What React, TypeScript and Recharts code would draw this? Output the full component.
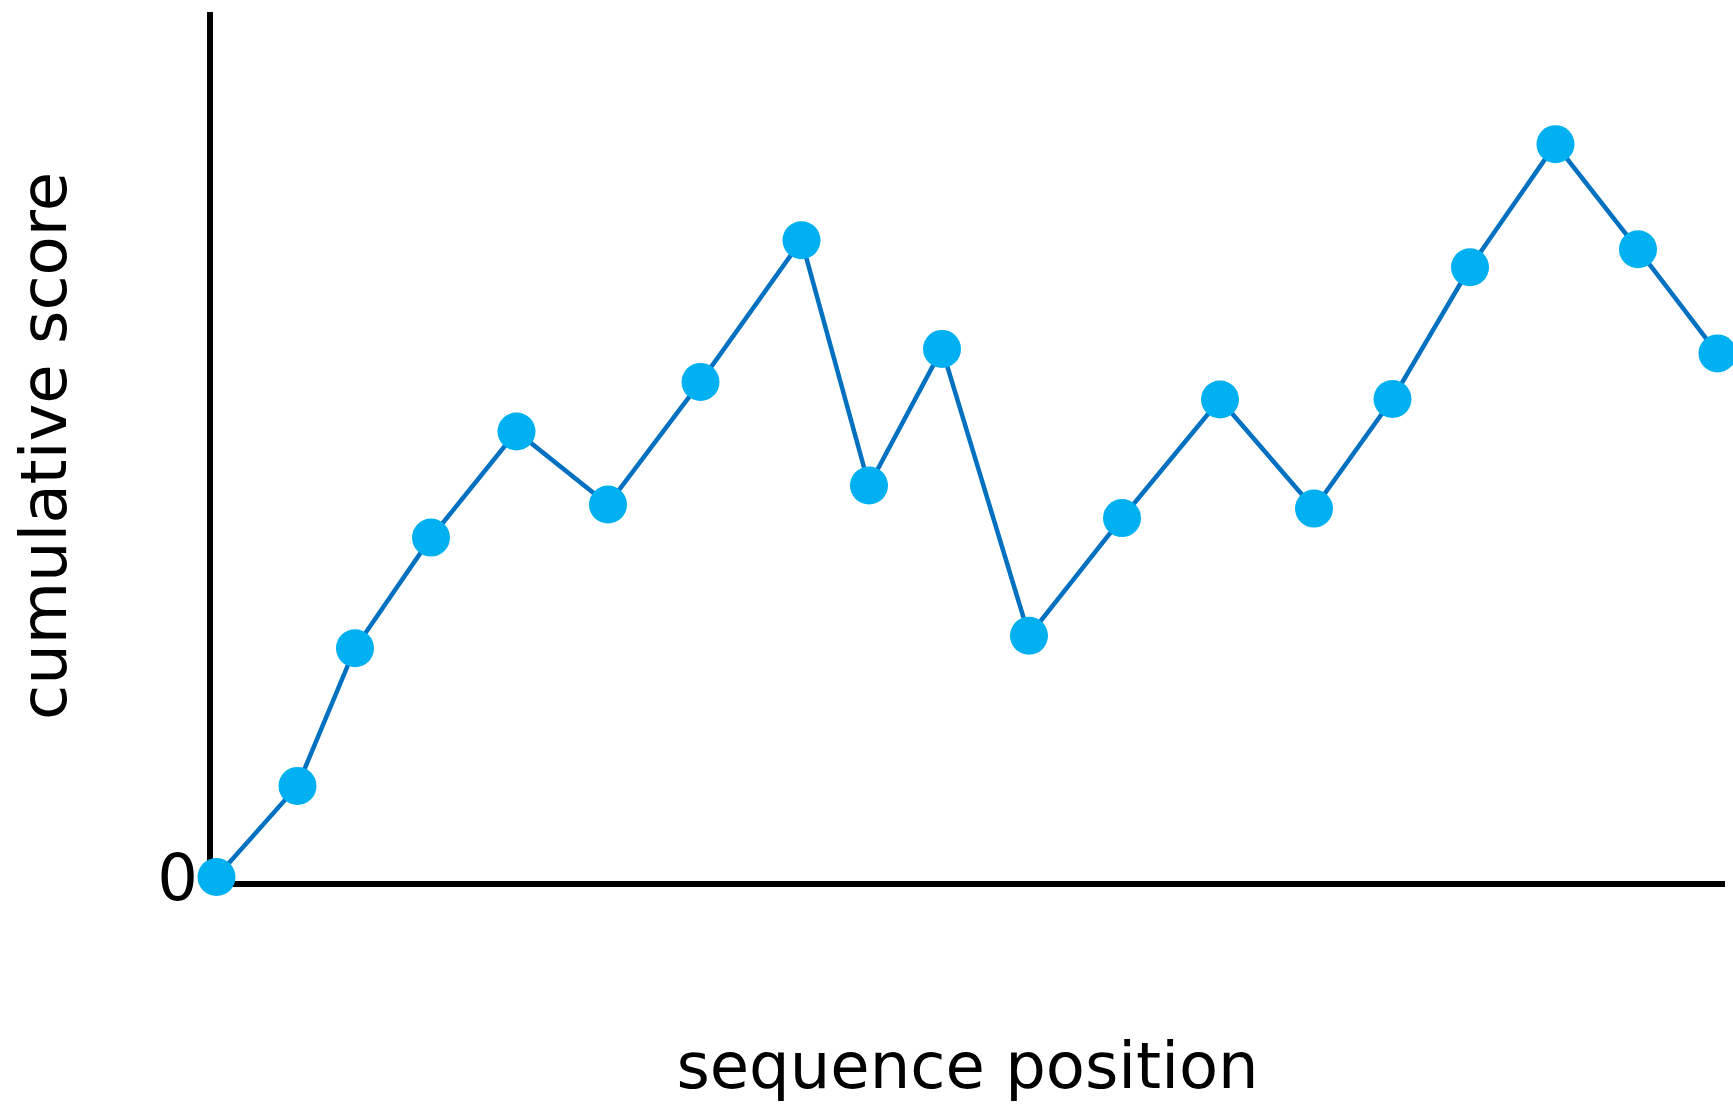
import React from 'react';
import { LineChart, Line, XAxis, YAxis } from 'recharts';

// sequence positions (x) and cumulative score (y)
const positions = [
  0, 8.1, 13.85, 21.45, 30, 39.15, 48.4, 58.5, 65.25, 72.55,
  81.25, 90.55, 100.35, 109.75, 117.6, 125.35, 133.9, 142.15, 150.1,
];
const scores = [
  0, 9.1, 22.85, 33.9, 44.5, 37.2, 49.45, 63.6, 39.1, 52.75,
  24.1, 35.85, 47.7, 36.8, 47.75, 60.9, 73.2, 62.7, 52.3,
];
const yTicks = [0];

const data = positions.map((pos, i) => ({ pos, score: scores[i] }));

const FONT = '"DejaVu Sans", sans-serif';

const YLabel = (props: any) => {
  const vb = props.viewBox;
  const x = vb.x + 66;
  const y = vb.y + vb.height / 2 - 2;
  return (
    <text
      x={x}
      y={y}
      transform={`rotate(-90, ${x}, ${y})`}
      textAnchor="middle"
      fontSize={64}
      fontFamily={FONT}
      fill="#000"
    >
      cumulative score
    </text>
  );
};

const App: React.FC = () => {
  return (
    <div style={{ position: 'absolute', left: 0, top: 0, fontFamily: FONT, background: '#fff' }}>
      <LineChart
        width={1733}
        height={1106}
        data={data}
        margin={{ top: 12, right: 8, left: 0, bottom: 0 }}
      >
        <XAxis
          type="number"
          dataKey="pos"
          domain={[0, 150.85]}
          padding={{ left: 6.5, right: 0 }}
          height={222}
          tick={false}
          tickLine={false}
          axisLine={{ stroke: '#000', strokeWidth: 6 }}
          label={{
            value: 'sequence position',
            position: 'insideBottom',
            offset: 18,
            fontSize: 64,
            fill: '#000',
            fontFamily: FONT,
          }}
        />
        <YAxis
          type="number"
          dataKey="score"
          domain={[0, 86.4]}
          ticks={yTicks}
          padding={{ top: 0, bottom: 7 }}
          width={210}
          tickLine={false}
          tickSize={6}
          tickMargin={6}
          tick={{ fontSize: 64, fill: '#000', fontFamily: FONT }}
          axisLine={{ stroke: '#000', strokeWidth: 6 }}
          label={<YLabel />}
        />
        <Line
          type="linear"
          dataKey="score"
          stroke="#0070C0"
          strokeWidth={4.5}
          dot={{ r: 19, fill: '#00B0F0', stroke: 'none', strokeWidth: 0 }}
          activeDot={false}
          isAnimationActive={false}
        />
      </LineChart>
    </div>
  );
};

export default App;
